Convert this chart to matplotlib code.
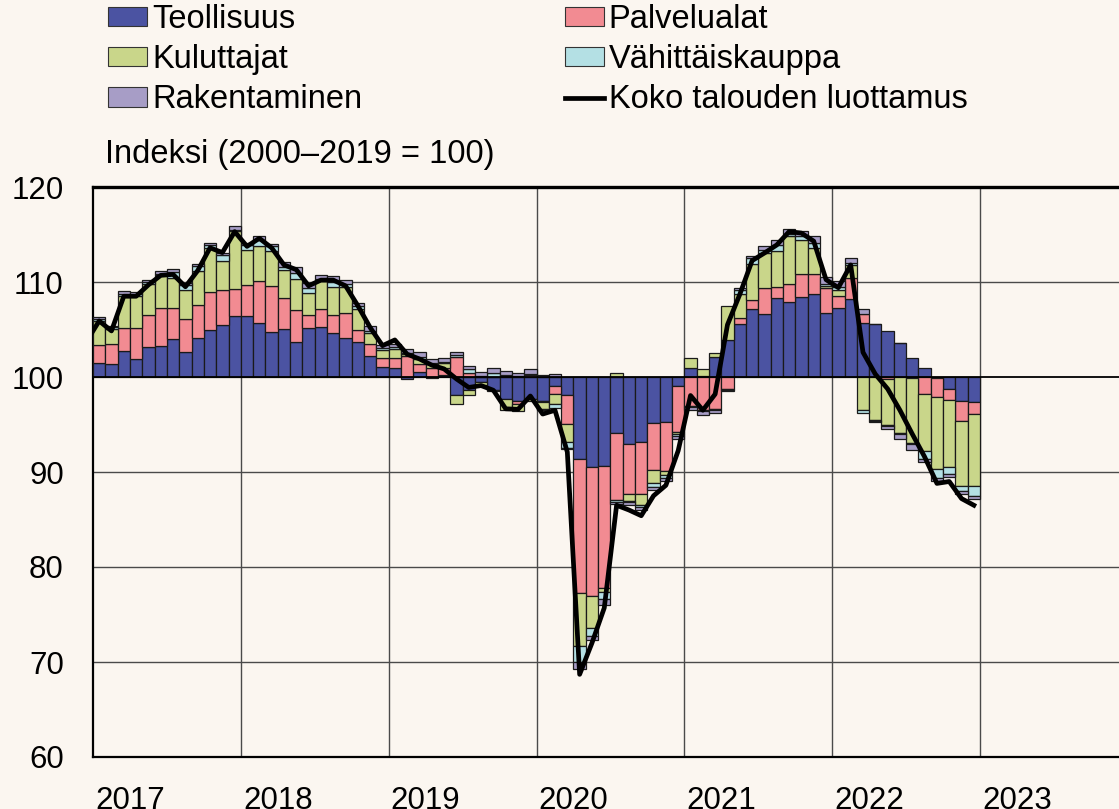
"""Luottamusindikaattorit: toimialojen vaikutus koko talouden luottamukseen"""

import matplotlib

matplotlib.use("Agg")
import matplotlib.pyplot as plt
import numpy as np
from matplotlib.lines import Line2D
from matplotlib.patches import Patch

plt.rcParams["font.family"] = ["Liberation Sans", "DejaVu Sans"]

# Monthly contributions, Jan 2017 - Dec 2022 (deviation from 100)
teollisuus = [
    1.47, 1.36, 2.76, 1.88, 3.18, 3.25, 3.98, 2.58, 4.12, 4.92, 5.45, 6.39,
    6.39, 5.69, 4.71, 5.03, 3.66, 5.13, 5.30, 4.61, 4.08, 3.66, 2.20, 1.05,
    1.00, -0.20, 0.50, -0.10, 0.20, -1.90, -1.33, -0.50, -1.33, -2.30, -2.48, -2.30,
    -2.50, -0.95, -1.90, -8.60, -9.50, -9.40, -5.90, -7.00, -6.80, -4.80, -4.70, -0.95,
    1.00, 0.10, 2.06, 3.87, 5.60, 7.20, 6.67, 8.27, 7.92, 8.41, 8.76, 6.77,
    7.30, 8.17, 5.72, 5.55, 4.85, 3.63, 1.95, 1.00, -0.10, -1.30, -2.50, -2.60,
]
palvelualat = [
    1.95, 2.09, 2.37, 3.32, 3.35, 3.98, 3.25, 3.49, 3.42, 3.98, 3.66, 2.83,
    3.32, 4.40, 4.85, 3.25, 3.35, 1.43, 1.88, 1.88, 2.62, 1.26, 1.26, 0.94,
    1.05, 2.16, 0.87, 0.90, 0.80, 2.10, 0.42, 0.05, 0.05, 0.10, -0.35, 0.25,
    -0.10, -0.80, -3.00, -14.10, -13.50, -12.80, -7.00, -5.30, -5.55, -5.00, -5.20, -4.80,
    -3.10, -3.50, -3.40, -1.30, 0.56, 0.87, 2.72, 1.19, 1.82, 2.44, 2.09, 2.55,
    1.22, 2.20, 0.94, 0.00, -0.20, 0.00, -0.15, -1.80, -2.00, -1.10, -2.10, -1.33,
]
kuluttajat = [
    2.48, 1.64, 3.39, 3.32, 3.28, 3.46, 3.21, 3.14, 3.60, 4.68, 3.07, 6.11,
    3.70, 3.73, 3.73, 3.00, 3.35, 2.30, 2.90, 2.97, 2.76, 2.20, 1.22, 0.87,
    0.87, 0.24, 0.52, 0.45, 0.50, -0.94, -0.56, -0.35, -0.10, -1.22, -0.70, -0.20,
    -0.80, -1.10, -1.90, -5.60, -3.40, -0.45, 0.45, -0.80, -1.10, -1.40, -0.45, -0.30,
    1.05, 0.70, 0.42, 3.60, 2.58, 3.80, 3.66, 3.84, 5.06, 3.60, 2.72, 0.24,
    0.60, 1.47, -3.50, -4.50, -4.90, -5.90, -6.80, -6.00, -7.60, -7.05, -6.85, -7.57,
]
vahittaiskauppa = [
    0.21, 0.14, 0.24, 0.17, 0.21, 0.17, 0.63, 0.52, 0.52, 0.28, 0.63, 0.17,
    0.45, 0.60, 0.45, 0.28, 0.59, 0.52, 0.24, 0.52, 0.31, 0.35, 0.17, 0.24,
    0.24, 0.10, 0.17, 0.10, 0.10, 0.20, 0.42, 0.10, 0.42, 0.10, 0.10, 0.10,
    -0.10, -0.40, -0.70, -1.70, -0.90, -0.70, -0.25, -0.10, -0.25, -0.35, -0.25, -0.20,
    -0.10, -0.10, -0.10, -0.10, 0.45, 0.70, 0.35, 0.63, 0.30, 0.35, 0.52, 0.24,
    0.35, 0.20, -0.28, -0.10, -0.10, -0.10, -0.10, -0.87, -0.94, -0.80, -0.60, -1.05,
]
rakentaminen = [
    0.17, 0.17, 0.28, 0.24, 0.17, 0.35, 0.35, 0.17, 0.20, 0.24, 0.24, 0.35,
    0.24, 0.45, 0.31, 0.52, 0.60, 0.52, 0.38, 0.60, 0.45, 0.35, 0.52, 0.28,
    0.35, 0.45, 0.52, 0.42, 0.42, 0.35, 0.35, 0.35, 0.50, 0.42, 0.35, 0.50,
    0.25, 0.30, -0.10, -0.70, -0.40, -0.60, -0.25, -0.30, -0.30, -0.35, -0.35, -0.30,
    -0.30, -0.35, -0.30, -0.10, 0.15, 0.20, 0.35, 0.52, 0.50, 0.52, 0.70, 0.70,
    0.63, 0.52, 0.45, -0.10, -0.25, -0.50, -0.60, -0.30, -0.30, -0.25, -0.25, -0.28,
]

# Overall confidence, Dec 2016 - Dec 2022
koko_talous = [
    103.8,
    105.9, 104.85, 108.5, 108.5, 109.7, 110.7, 110.8, 109.5, 111.2, 113.6, 113.1, 115.3,
    113.75, 114.6, 113.6, 111.8, 111.3, 109.6, 110.2, 110.2, 109.6, 107.5, 105.2, 103.3,
    103.9, 102.4, 101.9, 101.25, 100.85, 99.8, 98.9, 99.1, 98.6, 96.65, 96.6, 98.0,
    96.1, 96.5, 92.1, 68.7, 72.0, 75.7, 86.5, 86.0, 85.4, 87.5, 88.6, 92.25,
    98.05, 96.5, 98.2, 105.5, 108.7, 112.25, 113.05, 113.9, 115.3, 115.15, 114.3, 110.25,
    109.4, 111.8, 102.6, 100.3, 98.75, 96.5, 94.0, 91.6, 88.8, 89.0, 87.2, 86.5,
]

years = ["2017", "2018", "2019", "2020", "2021", "2022", "2023"]

series = [
    ("Teollisuus", teollisuus, "#4b53a2"),
    ("Palvelualat", palvelualat, "#f28b92"),
    ("Kuluttajat", kuluttajat, "#c9d68a"),
    ("Vähittäiskauppa", vahittaiskauppa, "#b4e0e4"),
    ("Rakentaminen", rakentaminen, "#a79dc6"),
]

bg = "#fbf6f0"
fig = plt.figure(figsize=(11.19, 8.09), dpi=100, facecolor=bg)
ax = fig.add_axes([93 / 1119, 52 / 809, 1 - 93 / 1119, 570 / 809], facecolor=bg)

x = np.arange(len(teollisuus)) + 0.5
pos = np.full(len(x), 100.0)
neg = np.full(len(x), 100.0)
for name, vals, col in series:
    v = np.array(vals)
    bottom = np.where(v >= 0, pos, neg)
    ax.bar(x, v, bottom=bottom, width=1.0, color=col, edgecolor="#1a1a1a",
           linewidth=0.9, zorder=3)
    pos = pos + np.where(v >= 0, v, 0)
    neg = neg + np.where(v < 0, v, 0)

x_line = np.arange(len(koko_talous)) - 0.5
ax.plot(x_line, koko_talous, color="black", linewidth=3.4, zorder=5,
        solid_joinstyle="round")

ax.axhline(100, color="black", linewidth=1.3, zorder=4)
for yv in [70, 80, 90, 110]:
    ax.axhline(yv, color="#4a4a4a", linewidth=1.0, zorder=1)
for k in range(1, 7):
    ax.axvline(12 * k, color="#4a4a4a", linewidth=1.0, zorder=1)

ax.set_xlim(0, 1026 / 12.32)
ax.set_ylim(60, 120)
ax.set_yticks([60, 70, 80, 90, 100, 110, 120])
ax.set_xticks([12 * k + 3 for k in range(7)])
ax.set_xticklabels(years)
ax.tick_params(axis="both", length=0, labelsize=22.5, pad=21)

ax.spines["right"].set_visible(False)
ax.spines["top"].set_linewidth(2.4)
ax.spines["left"].set_linewidth(1.6)
ax.spines["bottom"].set_linewidth(1.6)

fig.text(105 / 1119, 1 - 155 / 809, "Indeksi (2000–2019 = 100)",
         fontsize=23.5, va="center", ha="left")

h = {name: Patch(facecolor=col, edgecolor="#333333", linewidth=0.8)
     for name, _, col in series}
line_h = Line2D([], [], color="black", linewidth=3.4)
handles = [h["Teollisuus"], h["Kuluttajat"], h["Rakentaminen"],
           h["Palvelualat"], h["Vähittäiskauppa"], line_h]
labels = ["Teollisuus", "Kuluttajat", "Rakentaminen",
          "Palvelualat", "Vähittäiskauppa", "Koko talouden luottamus"]
fig.legend(handles, labels, ncol=2, loc="upper left",
           bbox_to_anchor=(108 / 1119, 1 - 4 / 809), frameon=False,
           fontsize=23.5, handlelength=1.2, handleheight=0.55,
           handletextpad=0.15, columnspacing=6.2, labelspacing=0.28,
           borderpad=0, borderaxespad=0)

fig.savefig("out.png", dpi=100, facecolor=bg)
